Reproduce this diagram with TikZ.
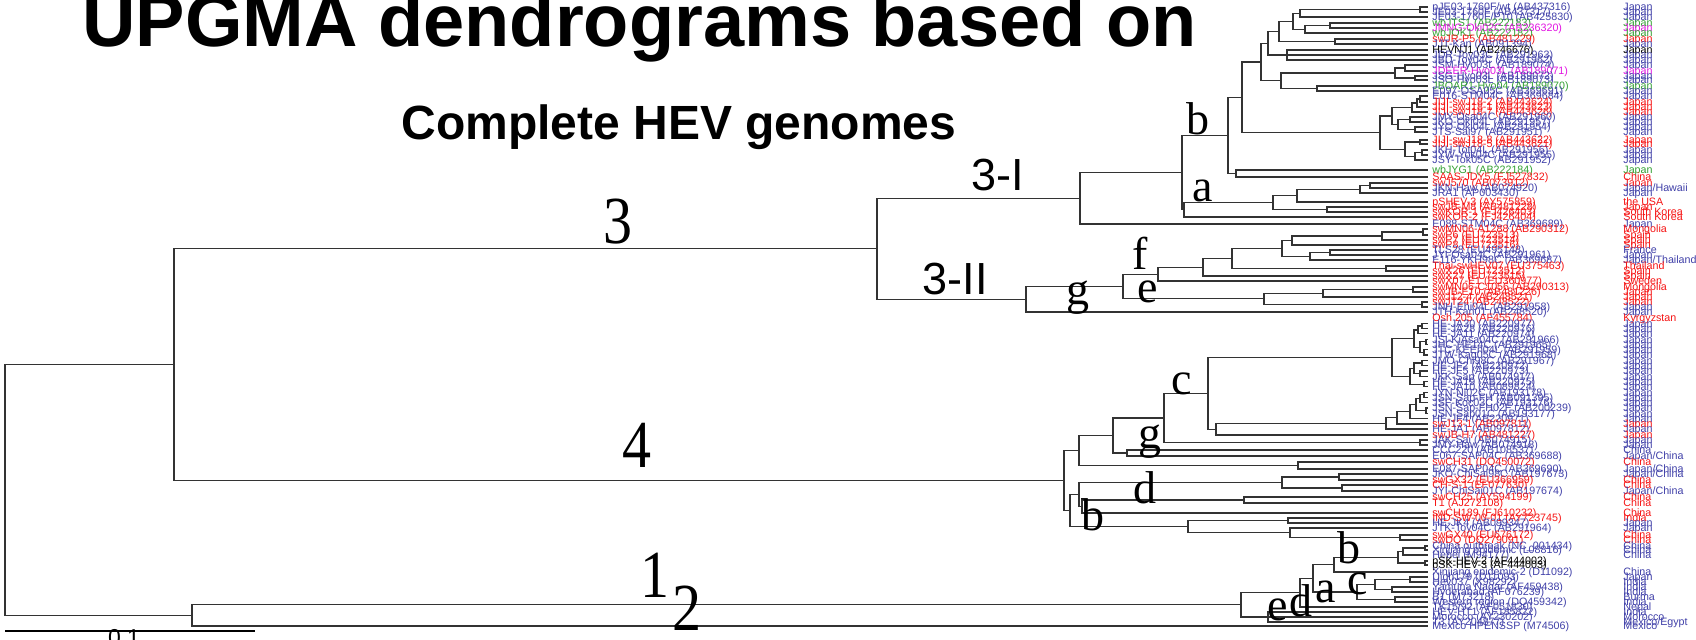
\documentclass[tikz,border=0pt]{standalone}
\usepackage{fontspec}
\setmainfont{Liberation Serif}
\setsansfont{Liberation Sans}
\usetikzlibrary{calc}
\definecolor{lblue}{RGB}{64,64,168}
\definecolor{lred}{RGB}{245,20,20}
\definecolor{lgreen}{RGB}{50,160,50}
\definecolor{lmag}{RGB}{225,20,225}

% internal tree node: name, x (px), first child, last child
\newcommand\mknode[4]{%
  \path let \p1=(#3), \p2=(#4) in coordinate (#1) at ({#2*0.5pt},{0.5*\y1+0.5*\y2});
  \draw[br] (#1) |- (#3) (#1) |- (#4);}
% internal tree node with three children
\newcommand\mknodeiii[5]{%
  \path let \p1=(#3), \p2=(#5) in coordinate (#1) at ({#2*0.5pt},{0.5*\y1+0.5*\y2});
  \draw[br] (#1) |- (#3) (#1) |- (#4) (#1) |- (#5);}

\tikzset{
  br/.style={draw=black!80, line width=0.6pt},
  leaf/.style={font={\sffamily\fontsize{5.35}{6}\selectfont}, anchor=west, inner sep=0pt, text height=3.85pt, text depth=0pt},
  gnum/.style={font={\fontsize{29}{30}\selectfont}, inner sep=0pt},
  subl/.style={font={\fontsize{23}{24}\selectfont}, inner sep=0pt},
  clade/.style={font={\sffamily\fontsize{22.5}{24}\selectfont}, inner sep=0pt},
}

\begin{document}
\begin{tikzpicture}[x=0.5pt,y=-0.5pt]
\useasboundingbox (0,0) rectangle (1696,640);
\clip (0,0) rectangle (1696,640);

% titles
\node[font={\sffamily\bfseries\fontsize{37}{40}\selectfont}, anchor=base, inner sep=0pt] (title) at (639.5,47) {UPGMA dendrograms based on};
\node[font={\sffamily\bfseries\fontsize{24}{28}\selectfont}, anchor=base, inner sep=0pt] (subtitle) at (679,140) {Complete HEV genomes};

% leaves: y / colour / strain / country
\foreach \y/\c/\t/\k [count=\i from 0] in {
 7/lblue/{pJE03-1760F/wt (AB437316)}/Japan,
 12/lblue/{JE03-1760F (AB437317)}/Japan,
 17/lblue/{JE03-1760F/P10 (AB425830)}/Japan,
 23/lgreen/{wbJTS1 (AB222183)}/Japan,
 28/lmag/{JMNG-Oki02C (AB236320)}/Japan,
 33/lgreen/{wbJOK1 (AB222182)}/Japan,
 39/lred/{swJR-P5 (AB481229)}/Japan,
 44/lblue/{JJT-Kan (AB091394)}/Japan,
 50/black/{HEVNJ1 (AB246676)}/Japan,
 55/lblue/{JDR-Toy03C (AB291963)}/Japan,
 60/lblue/{JBD-Toy04C (AB291962)}/Japan,
 65/lblue/{JSM-Hyo03L (AB189074)}/Japan,
 71/lmag/{JDEER-Hyo03L (AB189071)}/Japan,
 76/lblue/{JSG-Hyo03L (AB189072)}/Japan,
 80/lblue/{JSO-Hyo03L (AB189073)}/Japan,
 86/lgreen/{JBOAR1-Hyo04 (AB189070)}/Japan,
 91/lblue/{E097-OSA05C (AB369691)}/Japan,
 96/lblue/{E016-STM04C (AB369684)}/Japan,
 102/lred/{JIJI-swJ18-2 (AB443624)}/Japan,
 107/lred/{JIJI-swJ18-1 (AB443623)}/Japan,
 112/lred/{JIJI-swJ18-7 (AB443626)}/Japan,
 117/lblue/{JMY-Osa04C (AB291960)}/Japan,
 122/lblue/{JKO-Oki04L (AB291957)}/Japan,
 127/lblue/{JYO-Oki04L (AB291954)}/Japan,
 132/lblue/{JTS-Sai97 (AB291951)}/Japan,
 140/lred/{JIJI-swJ18-8 (AB443622)}/Japan,
 144/lred/{JIJI-swJ18-5 (AB443621)}/Japan,
 150/lblue/{JKH-Tot04L (AB291956)}/Japan,
 155/lblue/{JYW-Yok04C (AB291955)}/Japan,
 160/lblue/{JSY-Tok05C (AB291952)}/Japan,
 170/lgreen/{wbJYG1 (AB222184)}/Japan,
 177/lred/{SAAS-JDY5 (FJ527832)}/China,
 183/lred/{swJ570 (AB073912)}/Japan,
 188/lblue/{JKN-Haw (AB074920)}/{Japan/Hawaii},
 193/lblue/{JRA1 (AP003430)}/Japan,
 202/lred/{pSHEV-3 (AY575859)}/{the USA},
 207/lred/{swJB-M8 (AB481228)}/Japan,
 212/lred/{swKOR-1 (FJ426403)}/{South Korea},
 217/lred/{swKOR-2 (FJ426404)}/{South Korea},
 224/lblue/{E088-STM04C (AB369689)}/Japan,
 229/lred/{swMN06-A1288 (AB290312)}/Mongolia,
 235/lred/{swP6 (EU723513)}/Spain,
 240/lred/{swP7 (EU723514)}/Spain,
 245/lred/{swP8 (EU723516)}/Spain,
 250/lblue/{TLS28 (EU495148)}/France,
 255/lblue/{JYI-Osa04C (AB291961)}/Japan,
 260/lblue/{E116-YKH98C (AB369687)}/{Japan/Thailand},
 266/lred/{Thai-swHEV07 (EU375463)}/Thailand,
 271/lred/{swX26 (EU723512)}/Spain,
 276/lred/{swX27 (EU723515)}/Spain,
 281/lred/{swX07-E1 (EU360977)}/Sweden,
 287/lred/{swMN06-C1056 (AB290313)}/Mongolia,
 292/lred/{swJB-E10 (AB481226)}/Japan,
 297/lred/{swJ12-4 (AB248521)}/Japan,
 302/lred/{swJT24 (AB248522)}/Japan,
 307/lblue/{JNH-Ehi04L (AB291958)}/Japan,
 312/lblue/{JTH-Kan01 (AB248520)}/Japan,
 318/lred/{Osh 205 (AF455784)}/Kyrgyzstan,
 323.3/lblue/{HE-JA30 (AB220977)}/Japan,
 328.6/lblue/{HE-JA28 (AB220976)}/Japan,
 333.9/lblue/{HE-JA11 (AB220974)}/Japan,
 339.2/lblue/{JSI-KiAsa04C (AB291966)}/Japan,
 344.5/lblue/{JHC-HE14C (AB291965)}/Japan,
 349.8/lblue/{JTC-KEEh04L (AB291959)}/Japan,
 355.1/lblue/{JTW-Kag05C (AB291968)}/Japan,
 360.4/lblue/{JMO-Chi98C (AB291967)}/Japan,
 365.7/lblue/{HE-JF2 (AB220972)}/Japan,
 371/lblue/{HE-JF5 (AB220973)}/Japan,
 376.3/lblue/{JKK-Sap (AB074917)}/Japan,
 381.6/lblue/{HE-JA19 (AB220975)}/Japan,
 386.9/lblue/{HE-JA10 (AB089824)}/Japan,
 392.2/lblue/{JYN-Ni02C (AB193178)}/Japan,
 397.5/lblue/{JSN-Sap-FH (AB091395)}/Japan,
 402.8/lblue/{JSF-Koc03C (AB193176)}/Japan,
 408.1/lblue/{JSN-Sap-FH02F (AB200239)}/Japan,
 413.4/lblue/{JSN-Sap01C (AB193177)}/Japan,
 418.7/lblue/{HE-JF4 (AB220971)}/Japan,
 424/lred/{swJ13-1 (AB097811)}/Japan,
 429/lblue/{HE-JA1 (AB097812)}/Japan,
 435/lred/{swJB-H7 (AB481227)}/Japan,
 440/lblue/{JAK-Sai (AB074915)}/Japan,
 445/lblue/{JMY-Haw (AB074918)}/Japan,
 450/lblue/{CCC220 (AB108537)}/China,
 456/lblue/{E067-SAP04C (AB369688)}/{Japan/China},
 462/lred/{swCH31 (DQ450072)}/China,
 469/lblue/{E087-SAP04C (AB369690)}/{Japan/China},
 474/lblue/{JKO-ChiSai98C (AB197673)}/{Japan/China},
 480/lred/{swGX32 (EU366959)}/China,
 485/lred/{CH-S-1 (EF077630)}/China,
 491/lblue/{JYI-ChiSai01C (AB197674)}/{Japan/China},
 497/lred/{swCH25 (AY594199)}/China,
 503/lred/{T1 (AJ272108)}/China,
 513/lred/{swCH189 (FJ610232)}/China,
 518/lred/{IND-SW-00-01 (AY723745)}/India,
 523/lblue/{HE-JK4 (AB099347)}/Japan,
 528/lblue/{JTK-Toy04C (AB291964)}/Japan,
 535/lred/{swGX40 (EU676172)}/China,
 540/lred/{swDQ (DQ279091)}/China,
 546/lblue/{China outbreak (NC\_001434)}/China,
 550/lblue/{Xinjiang epidemic  (L08816)}/China,
 555/lblue/{Hebei (M94177)}/China,
 561/black/{pSK-HEV-2 (AF444002)}/{},
 565/black/{pSK-HEV-3 (AF444003)}/{},
 572/lblue/{Xinjiang epidemic-2 (D11092)}/China,
 577/lblue/{Uigh179 (D11093)}/Japan,
 582/lblue/{Hev037 (X98292)}/India,
 587/lblue/{Yamuna Nagar (AF459438)}/India,
 592/lblue/{Hyderabad (AF076239)}/India,
 597/lblue/{B1 (M73218)}/Burma,
 602/lblue/{Western region (DQ459342)}/India,
 607/lblue/{TK15/92 (AF051830)}/Nepal,
 612/lblue/{HEV-HT1 (AF185822)}/India,
 617/lblue/{Morocco (AY230202)}/Morocco,
 622/lblue/{T3 (AY204877)}/{Mexico/Egypt},
 626/lblue/{Mexico HPENSSP (M74506)}/Mexico}{
  \coordinate (L\i) at (1428,\y);
  \node[leaf,text=\c] (t\i) at (1432,\y) {\t};
  \node[leaf,text=\c] (k\i) at (1623,\y) {\k};
}

% ---- genotype 3, subtype group 3-I (b) ----
\mknode{P01}{1420}{L0}{L1}
\mknode{P012}{1300}{P01}{L2}
\mknode{P34}{1330}{L3}{L4}
\mknode{P345}{1305}{P34}{L5}
\mknode{Pa}{1293}{P012}{P345}
\mknode{P67}{1335}{L6}{L7}
\mknode{Pb}{1279}{Pa}{P67}
\mknodeiii{P810}{1287}{L8}{L9}{L10}
\mknode{Pc}{1268}{Pb}{P810}
\mknode{P1112}{1405}{L11}{L12}
\mknode{P1314}{1415}{L13}{L14}
\mknode{P1114}{1395}{P1112}{P1314}
\mknode{P1516}{1317}{L15}{L16}
\mknode{Pd}{1281}{P1114}{P1516}
\mknode{Pe}{1261}{Pc}{Pd}
\mknode{Q1}{1420}{L17}{L18}
\mknode{Q2}{1417}{Q1}{L19}
\mknode{Q3}{1412}{Q2}{L20}
\mknode{Q4a}{1410}{L21}{L22}
\mknode{Q4b}{1415}{L23}{L24}
\mknode{Q4}{1398}{Q4a}{Q4b}
\mknode{Q5a}{1420}{L25}{L26}
\mknode{Q5b}{1422}{L27}{L28}
\mknode{Q5c}{1415}{Q5b}{L29}
\mknode{Q5}{1405}{Q5a}{Q5c}
\mknode{Q7}{1392}{Q3}{Q4}
\mknode{Q8}{1380}{Q7}{Q5}
\mknode{Pf}{1242}{Pe}{Q8}
\mknode{Pg}{1236}{L30}{L31}
\mknode{Nb}{1228}{Pf}{Pg}
% 3-I (a)
\mknode{S1}{1370}{L32}{L33}
\mknode{S2}{1360}{S1}{L34}
\mknode{S3}{1297}{S2}{L35}
\mknode{S5}{1327}{L36}{L37}
\mknode{A1}{1273}{S3}{S5}
\mknode{Na}{1184}{A1}{L38}
\mknode{Nba}{1182}{Nb}{Na}
\mknode{N3I}{1080}{Nba}{L39}

% ---- 3-II ----
\mknode{V1}{1423}{L40}{L41}
\mknode{V2}{1382}{V1}{L42}
\mknode{V3}{1292}{V2}{L43}
\mknode{V4}{1330}{L44}{L45}
\mknode{V5}{1310}{V4}{L46}
\mknode{V6}{1282}{V3}{V5}
\mknode{W}{1386}{L47}{L48}
\mknode{X1}{1232}{V6}{W}
\mknode{X2}{1203}{X1}{L49}
\mknode{X3}{1158}{X2}{L50}
\mknode{U1}{1413}{L51}{L52}
\mknode{U2}{1323}{U1}{L53}
\mknode{U3}{1422}{L54}{L55}
\mknode{T1}{1264}{U2}{U3}
\mknode{X4}{1123}{X3}{T1}
\mknode{N3II}{1026}{X4}{L56}
\mknode{N3}{877}{N3I}{N3II}

% ---- genotype 4 ----
\mknode{GA1}{1422}{L58}{L59}
\mknode{GA2}{1418}{GA1}{L60}
\mknode{GA3}{1426}{L61}{L62}
\mknode{GA4}{1424}{L63}{L64}
\mknode{GA5}{1420}{GA3}{GA4}
\mknode{GA6}{1414}{GA2}{GA5}
\mknode{GB1}{1422}{L65}{L66}
\mknode{GB2}{1420}{L67}{L68}
\mknode{GB3}{1414}{GB1}{GB2}
\mknode{GB4}{1424}{L69}{L70}
\mknode{GB5}{1410}{GB3}{GB4}
\mknode{GC1}{1392}{GA6}{GB5}
\mknode{GD1}{1424}{L71}{L72}
\mknode{GD2}{1420}{GD1}{L73}
\mknode{GD3}{1426}{L74}{L75}
\mknode{GD4}{1416}{GD2}{GD3}
\mknode{GD5}{1410}{GD4}{L76}
\mknode{GD6}{1397}{GD5}{L77}
\mknode{GD7}{1386}{GD6}{L78}
\mknode{GD8}{1216}{GD7}{L79}
\mknode{Gc}{1208}{GC1}{GD8}
\mknode{GE1}{1420}{L80}{L81}
\mknode{GE2}{1164}{Gc}{GE1}
\mknode{GF}{1127}{L82}{L83}
\mknode{GE3}{1113}{GE2}{GF}
\mknode{GG}{1298}{L84}{L85}
\mknode{GE4}{1079}{GE3}{GG}
\mknode{GH1}{1339}{L86}{L87}
\mknode{GH2}{1342}{L88}{L89}
\mknode{GH3}{1282}{GH1}{GH2}
\mknode{GH4}{1244}{L90}{L91}
\mknode{GH5}{1082}{GH4}{L92}
\mknode{GH6}{1079}{GH3}{GH5}
\mknode{GI1}{1288}{L93}{L94}
\mknode{GI2}{1400}{L96}{L97}
\mknode{GI3}{1290}{L95}{GI2}
\mknode{GI4}{1188}{GI1}{GI3}
\mknode{GJ}{1070}{GH6}{GI4}
\mknode{N4}{1064}{GE4}{GJ}
\mknode{NT}{174}{N3}{N4}

% ---- genotype 1 and 2 ----
\mknode{J1}{1425}{L98}{L99}
\mknode{J2}{1403}{J1}{L100}
\mknode{J3}{1425}{L101}{L102}
\mknode{J4}{1398}{J2}{J3}
\mknode{Jb}{1334}{J4}{L103}
\mknode{K1}{1410}{L104}{L105}
\mknode{K2}{1392}{L106}{L107}
\mknode{K3}{1375}{K1}{K2}
\mknode{K4}{1395}{L108}{L109}
\mknode{Kc}{1357}{K3}{K4}
\mknode{Ja}{1313}{Jb}{Kc}
\mknode{Jd}{1300}{Ja}{L110}
\mknodeiii{Je}{1268}{L111}{L112}{L113}
\mknode{N1}{1241}{Jd}{Je}
\mknode{NB}{192}{N1}{L114}
\mknode{NR}{5}{NT}{NB}

% genotype numbers
\node[gnum] (g3) at (618,222) {\scalebox{1}[1.16]{3}};
\node[gnum] (g4) at (637,445) {\scalebox{1}[1.16]{4}};
\node[gnum] (g1) at (655,575) {\scalebox{1}[1.16]{1}};
\node[gnum] (g2) at (687,608) {\scalebox{1}[1.16]{2}};

% group and subtype labels
\node[clade] (c3I) at (998,175) {3-I};
\node[clade] (c3II) at (955,279) {3-II};
\node[subl] (s3b) at (1198,119) {b};
\node[subl] (s3a) at (1203,191) {a};
\node[subl] (s3f) at (1140,253) {f};
\node[subl] (s3e) at (1148,292) {e};
\node[subl] (s3g) at (1078,298) {g};
\node[subl] (s4c) at (1182,384) {c};
\node[subl] (s4g) at (1150,442) {g};
\node[subl] (s4d) at (1145,488) {d};
\node[subl] (s4b) at (1093,515) {b};
\node[subl] (s1b) at (1349,548) {b};
\node[subl] (s1c) at (1358,584) {c};
\node[subl] (s1a) at (1326,592) {a};
\node[subl] (s1d) at (1301,601) {d};
\node[subl] (s1e) at (1278,610) {e};

% scale bar
\coordinate (sbL) at (5,631);
\coordinate (sbR) at (255,631);
\draw[line width=1.3pt] (sbL) -- (sbR);
\node[font={\sffamily\fontsize{11.5}{12}\selectfont}, anchor=base, inner sep=0pt] (sbt) at (124,645) {0.1};
\end{tikzpicture}
\end{document}
